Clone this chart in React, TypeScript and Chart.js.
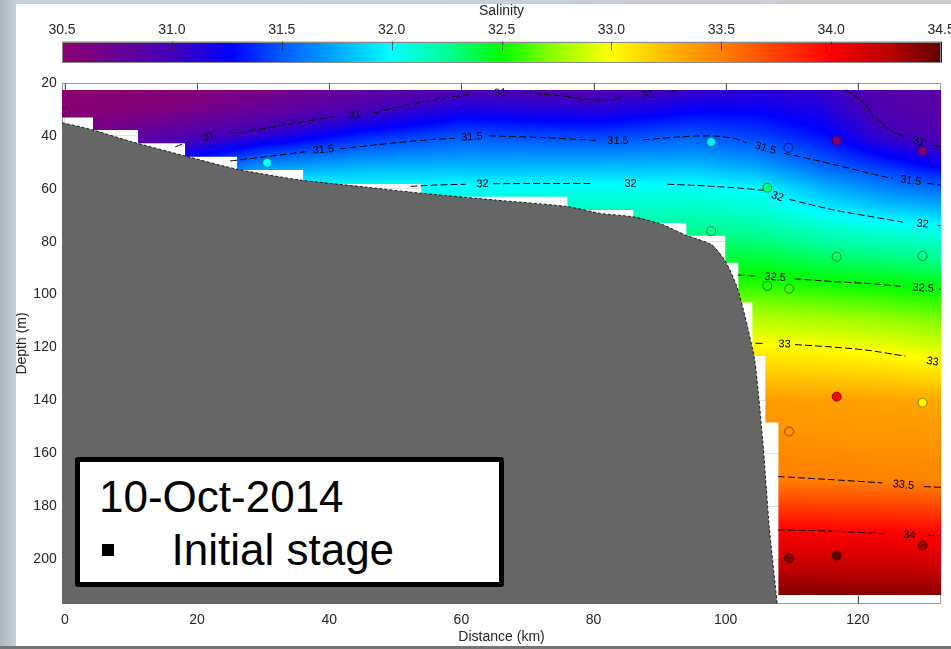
import React, { useEffect, useRef } from 'react';
import { Chart, registerables } from 'chart.js';

Chart.register(...registerables);

const FONT = "'Liberation Sans', Arial, Helvetica, sans-serif";
const TEXT_COLOR = '#262626';

// ---- axes ----
const X_MIN = -0.45;
const X_MAX = 132.6;
const Y_MIN = 20;
const Y_MAX = 217;
const SAL_MIN = 30.5;
const SAL_MAX = 34.5;

// ---- gridded salinity field (rows = depth levels, columns = distances) ----
const gridDistance = [0, 15, 30, 45, 60, 80, 95, 105, 115, 124, 132.6];
const gridDepth = [22, 30, 40, 50, 60, 75, 95, 120, 140, 155, 170, 190, 215];
const sal22 = [30.5, 30.52, 30.62, 30.8, 30.94, 30.92, 31.03, 31.1, 31.05, 30.9, 30.85];
const sal30 = [30.52, 30.6, 30.78, 30.97, 31.17, 31.12, 31.25, 31.25, 31.15, 30.93, 30.88];
const sal40 = [30.62, 30.88, 31.1, 31.35, 31.48, 31.44, 31.5, 31.43, 31.3, 31.05, 30.93];
const sal50 = [30.8, 31.25, 31.62, 31.72, 31.75, 31.75, 31.77, 31.68, 31.49, 31.35, 31.2];
const sal60 = [31.0, 31.6, 32.05, 32.03, 32.02, 32.04, 32.03, 31.99, 31.78, 31.64, 31.55];
const sal75 = [31.3, 31.9, 32.15, 32.15, 32.2, 32.22, 32.25, 32.22, 32.13, 32.07, 32.03];
const sal95 = [31.7, 32.1, 32.3, 32.35, 32.45, 32.6, 32.55, 32.54, 32.5, 32.47, 32.44];
const sal120 = [32.2, 32.5, 32.7, 32.8, 32.9, 33.0, 33.02, 33.03, 33.0, 32.96, 32.9];
const sal140 = [32.6, 32.9, 33.1, 33.2, 33.3, 33.35, 33.35, 33.36, 33.35, 33.34, 33.32];
const sal155 = [32.8, 33.05, 33.25, 33.32, 33.38, 33.42, 33.42, 33.43, 33.42, 33.41, 33.4];
const sal170 = [33.0, 33.2, 33.4, 33.45, 33.5, 33.5, 33.5, 33.52, 33.5, 33.49, 33.47];
const sal190 = [33.5, 33.7, 33.9, 33.95, 34.0, 34.0, 34.0, 34.02, 34.01, 34.0, 33.98];
const sal215 = [34.0, 34.1, 34.2, 34.3, 34.4, 34.42, 34.42, 34.43, 34.43, 34.42, 34.41];
const salinityGrid = [sal22, sal30, sal40, sal50, sal60, sal75, sal95, sal120, sal140, sal155, sal170, sal190, sal215];

// ---- extent of the gridded field (blanked steps) ----
const fieldTop = 22.6;
const fieldStepEdges = [-0.45, 4.24, 11.06, 18.17, 26.05, 36.04, 53.92, 76.03, 86.02, 94.05, 99.95, 101.92, 104.04, 106.0, 107.98, 132.6];
const fieldStepBottoms = [33, 37.8, 42.8, 47.9, 52.9, 58.2, 63, 68, 72.9, 77.8, 88, 103, 123.2, 148.4, 213.6];

// ---- bathymetry ----
const bathyDistance = [-0.45, 4.0, 10.1, 18.2, 26.0, 35.6, 45.3, 54.0, 65.3, 76.0, 81.0, 86.0, 90.4, 93.9, 97.9, 100.0, 101.7, 102.9, 104.4, 105.6, 106.6, 107.8];
const bathyDepth = [35, 37.6, 42.2, 47.6, 52.6, 56.7, 59.3, 61.7, 64.3, 66.7, 69.3, 70.6, 73.5, 77.5, 81.2, 87.6, 97, 108, 125, 155, 188, 217];

// ---- stations (CTD samples) ----
const stationDistance = [0.05, 30.6, 97.8, 109.5, 116.8, 129.8, 106.3, 97.8, 116.8, 129.8, 106.3, 109.6, 116.8, 129.8, 109.6, 109.6, 116.8, 129.8];
const stationDepth = [30.85, 50.2, 42.3, 44.5, 41.9, 45.8, 59.6, 76.0, 85.7, 85.4, 96.7, 97.8, 138.6, 140.9, 151.8, 199.7, 198.7, 194.9];
const stationSalinity = [30.55, 32.0, 31.95, 31.35, 30.55, 30.6, 32.3, 32.4, 32.45, 32.45, 32.5, 32.7, 34.0, 33.05, 33.4, 34.4, 34.5, 34.35];
const stationFilled = [0, 1, 1, 0, 1, 1, 1, 0, 0, 0, 0, 0, 1, 1, 0, 1, 1, 1];

// ---- contour lines: segments [distance, depth] and label positions ----
const c31aSegments = [
  [[16.7, 44.1], [18.6, 42.4]],
  [[24.8, 39.2], [30, 37.3], [35, 35.1], [38.6, 33.6], [41.0, 32.7]],
  [[46.8, 31.2], [53, 27.7], [58, 25.4], [61.2, 24.3]],
  [[69.5, 23.8], [75, 24.8], [79.8, 26.4], [84.5, 25.9]],
  [[91.2, 23.4], [92.6, 22.6]],
];
const c31aLabels = [[21.7, 40.4], [43.9, 32.1], [65.9, 23.8], [88.3, 24.5]];

const c31bSegments = [
  [[118.1, 22.6], [120.4, 26.4], [123.1, 34.0], [124.9, 37.8], [127.0, 40.2]],
  [[131.3, 43.6], [132.6, 44.1]],
];
const c31bLabels = [[129.2, 42.2]];

const c315Segments = [
  [[25.0, 49.5], [30, 48.0], [36.4, 46.0]],
  [[41.6, 44.9], [50, 42.6], [56, 41.3], [59.0, 40.9]],
  [[64.2, 40.0], [72, 40.6], [80.5, 41.7]],
  [[87.5, 41.5], [93, 40.4], [97.7, 40.0], [101.2, 40.9], [103.2, 42.6]],
  [[108.8, 46.6], [111.3, 47.9], [117.5, 51.5], [123.9, 55.4], [125.3, 56.0]],
  [[130.5, 57.9], [132.6, 58.6]],
];
const c315Labels = [[39.1, 45.3], [61.6, 40.4], [83.7, 41.9], [106.0, 44.7], [128.0, 57.0]];

const c32Segments = [
  [[52.3, 59.1], [56, 58.6], [60.6, 58.3]],
  [[64.8, 58.1], [70, 58.0], [75, 58.0], [79.5, 58.0]],
  [[91.2, 58.3], [95.3, 58.7], [101.3, 59.6], [105.8, 60.6]],
  [[109.6, 64.0], [116.3, 68], [121.5, 70.3], [126.8, 72.6]],
  [[132.0, 73.8], [132.6, 74.0]],
];
const c32Labels = [[63.2, 58.2], [85.6, 58.1], [107.8, 63.0], [129.8, 73.3]];

const c325Segments = [
  [[101.8, 92.6], [104.7, 93.0]],
  [[110.4, 94.0], [116.3, 95.1], [121.5, 95.8], [126.5, 96.9]],
  [[132.3, 97.9], [132.6, 98.0]],
];
const c325Labels = [[107.5, 93.5], [129.9, 97.6]];

const c33Segments = [
  [[104.5, 118.4], [106.0, 118.5]],
  [[110.5, 118.9], [116, 119.8], [121.3, 121.0], [127.2, 123.3]],
];
const c33Labels = [[108.9, 118.8], [131.3, 125.4]];

const c335Segments = [
  [[107.9, 168.8], [115.5, 169.9], [123.7, 171.2]],
  [[130.0, 172.6], [132.6, 172.9]],
];
const c335Labels = [[126.9, 172.0]];

const c34Segments = [
  [[107.9, 189.0], [115.5, 189.4], [124.5, 190.5]],
  [[130.6, 191.1], [132.6, 191.2]],
];
const c34Labels = [[127.8, 190.9]];

const contourLevels = ['31', '31', '31.5', '32', '32.5', '33', '33.5', '34'];
const contourSegments = [c31aSegments, c31bSegments, c315Segments, c32Segments, c325Segments, c33Segments, c335Segments, c34Segments];
const contourLabels = [c31aLabels, c31bLabels, c315Labels, c32Labels, c325Labels, c33Labels, c335Labels, c34Labels];
const contourDashed = [true, false, true, true, true, true, true, true];

// ---- colour map ----
const cmapValues = [30.5, 30.75, 31.0, 31.27, 31.5, 31.75, 32.0, 32.25, 32.5, 32.75, 33.0, 33.2, 33.35, 33.5, 33.75, 34.0, 34.25, 34.5];
const cmapColors = [
  [140, 0, 110], [105, 0, 150], [70, 0, 185], [0, 0, 255], [0, 90, 255], [0, 170, 255],
  [0, 255, 255], [0, 255, 150], [0, 255, 0], [150, 255, 0], [255, 255, 0], [255, 200, 0],
  [255, 160, 0], [255, 128, 0], [255, 64, 0], [255, 0, 0], [190, 0, 0], [96, 0, 0],
];

function cmap(v: number): number[] {
  const n = cmapValues.length;
  if (v <= cmapValues[0]) return cmapColors[0];
  if (v >= cmapValues[n - 1]) return cmapColors[n - 1];
  let i = 0;
  while (i < n - 2 && v > cmapValues[i + 1]) i++;
  const t = (v - cmapValues[i]) / (cmapValues[i + 1] - cmapValues[i]);
  const a = cmapColors[i];
  const b = cmapColors[i + 1];
  return [a[0] + (b[0] - a[0]) * t, a[1] + (b[1] - a[1]) * t, a[2] + (b[2] - a[2]) * t];
}
const rgb = (c: number[]) => `rgb(${Math.round(c[0])},${Math.round(c[1])},${Math.round(c[2])})`;
const darken = (c: number[], f: number) => [c[0] * f, c[1] * f, c[2] * f];

function findIdx(arr: number[], v: number): [number, number] {
  const n = arr.length;
  if (v <= arr[0]) return [0, 0];
  if (v >= arr[n - 1]) return [n - 2, 1];
  let i = 0;
  while (i < n - 2 && v > arr[i + 1]) i++;
  return [i, (v - arr[i]) / (arr[i + 1] - arr[i])];
}

function salinityAt(d: number, z: number): number {
  const [i, t] = findIdx(gridDistance, d);
  const [j, u] = findIdx(gridDepth, z);
  const r0 = salinityGrid[j];
  const r1 = salinityGrid[j + 1];
  const a = r0[i] * (1 - t) + r0[i + 1] * t;
  const b = r1[i] * (1 - t) + r1[i + 1] * t;
  return a * (1 - u) + b * u;
}

// ---- plugins ----
const fieldPlugin = {
  id: 'salinityField',
  beforeDatasetsDraw(chart: any) {
    const { ctx, chartArea: ca } = chart;
    const xs = chart.scales.x;
    const ys = chart.scales.y;

    // frame and inward ticks
    ctx.save();
    ctx.strokeStyle = '#9a9a9a';
    ctx.lineWidth = 1;
    ctx.strokeRect(ca.left + 0.5, ca.top + 0.5, ca.right - ca.left - 1, ca.bottom - ca.top - 1);
    ctx.strokeStyle = '#555';
    xs.ticks.forEach((t: any) => {
      const p = Math.round(xs.getPixelForValue(t.value)) + 0.5;
      ctx.beginPath();
      ctx.moveTo(p, ca.top);
      ctx.lineTo(p, ca.top + 7);
      ctx.moveTo(p, ca.bottom);
      ctx.lineTo(p, ca.bottom - 8);
      ctx.stroke();
    });
    ctx.restore();

    // colour field
    const x0 = Math.floor(xs.getPixelForValue(fieldStepEdges[0]));
    const x1 = Math.ceil(xs.getPixelForValue(fieldStepEdges[fieldStepEdges.length - 1]));
    const y0 = Math.floor(ys.getPixelForValue(fieldTop));
    const y1 = Math.ceil(ys.getPixelForValue(Math.max(...fieldStepBottoms)));
    const w = x1 - x0;
    const h = y1 - y0;
    const off = document.createElement('canvas');
    off.width = w;
    off.height = h;
    const octx = off.getContext('2d')!;
    const img = octx.createImageData(w, h);
    const colD: number[] = [];
    for (let i = 0; i < w; i++) colD.push(xs.getValueForPixel(x0 + i + 0.5));
    for (let j = 0; j < h; j++) {
      const z = ys.getValueForPixel(y0 + j + 0.5);
      for (let i = 0; i < w; i++) {
        const c = cmap(salinityAt(colD[i], z));
        const k = (j * w + i) * 4;
        img.data[k] = c[0];
        img.data[k + 1] = c[1];
        img.data[k + 2] = c[2];
        img.data[k + 3] = 255;
      }
    }
    octx.putImageData(img, 0, 0);

    const px = (d: number) => xs.getPixelForValue(d);
    const py = (z: number) => ys.getPixelForValue(z);
    ctx.save();
    ctx.beginPath();
    const last = fieldStepEdges.length - 1;
    ctx.moveTo(px(fieldStepEdges[0]), py(fieldTop));
    ctx.lineTo(px(fieldStepEdges[last]), py(fieldTop));
    for (let k = fieldStepBottoms.length - 1; k >= 0; k--) {
      ctx.lineTo(px(fieldStepEdges[k + 1]), py(fieldStepBottoms[k]));
      ctx.lineTo(px(fieldStepEdges[k]), py(fieldStepBottoms[k]));
    }
    ctx.closePath();
    ctx.clip();
    ctx.drawImage(off, x0, y0);
    ctx.restore();
  },
};

const labelPlugin = {
  id: 'contourLabels',
  afterDatasetsDraw(chart: any) {
    const { ctx } = chart;
    const xs = chart.scales.x;
    const ys = chart.scales.y;
    const P = (p: number[]) => [xs.getPixelForValue(p[0]), ys.getPixelForValue(p[1])];
    ctx.save();
    ctx.font = `11px ${FONT}`;
    ctx.fillStyle = '#000';
    ctx.textAlign = 'center';
    ctx.textBaseline = 'middle';
    contourLabels.forEach((labels, ci) => {
      const segs = contourSegments[ci];
      labels.forEach((lab, li) => {
        const prev = segs[li];
        const next = segs[li + 1];
        let a: number[];
        let b: number[];
        if (next) {
          a = P(prev[prev.length - 1]);
          b = P(next[0]);
        } else {
          a = P(prev[prev.length - 2]);
          b = P(prev[prev.length - 1]);
        }
        const ang = Math.atan2(b[1] - a[1], b[0] - a[0]);
        const c = P(lab);
        ctx.save();
        ctx.translate(c[0], c[1]);
        ctx.rotate(ang);
        ctx.fillText(contourLevels[ci], 0, 0);
        ctx.restore();
      });
    });
    ctx.restore();
  },
};

const colorbarPlugin = {
  id: 'colorbar',
  afterDraw(chart: any) {
    const { ctx } = chart;
    const cb = chart.scales.cb;
    const top = cb.bottom;
    const height = 21;
    ctx.save();
    for (let p = Math.floor(cb.left); p < Math.ceil(cb.right); p++) {
      const v = cb.getValueForPixel(p + 0.5);
      ctx.fillStyle = rgb(cmap(v));
      ctx.fillRect(p, top, 1, height);
    }
    ctx.strokeStyle = '#8a8a8a';
    ctx.lineWidth = 1;
    ctx.strokeRect(Math.round(cb.left) + 0.5, Math.round(top) + 0.5, Math.round(cb.right - cb.left) - 1, height - 1);
    ctx.strokeStyle = 'rgba(40,40,40,0.75)';
    cb.ticks.forEach((t: any) => {
      if (t.value <= SAL_MIN || t.value >= SAL_MAX) return;
      const p = Math.round(cb.getPixelForValue(t.value)) + 0.5;
      ctx.beginPath();
      ctx.moveTo(p, top);
      ctx.lineTo(p, top + 9);
      ctx.stroke();
    });
    ctx.restore();
  },
};

function buildContourData(segs: number[][][], labels: number[][]) {
  const out: any[] = [];
  segs.forEach((seg, i) => {
    seg.forEach((p) => out.push({ x: p[0], y: p[1] }));
    if (i < segs.length - 1) {
      const lab = labels[i] || seg[seg.length - 1];
      out.push({ x: lab[0], y: null });
    }
  });
  return out;
}

export default function App() {
  const ref = useRef<HTMLCanvasElement>(null);

  useEffect(() => {
    const canvas = ref.current;
    if (!canvas) return;
    Chart.defaults.font.family = FONT;

    const tickFont = { size: 14, family: FONT };

    const bathyDataset: any = {
      type: 'line',
      label: 'Bathymetry',
      data: bathyDistance.map((d, i) => ({ x: d, y: bathyDepth[i] })),
      borderColor: 'rgba(0,0,0,0.85)',
      borderWidth: 1,
      borderDash: [3, 2],
      backgroundColor: '#666666',
      fill: { value: Y_MAX },
      pointRadius: 0,
      tension: 0.2,
      order: 3,
      xAxisID: 'x',
      yAxisID: 'y',
    };

    const contourDatasets: any[] = contourSegments.map((segs, ci) => ({
      type: 'line',
      label: 'Contour ' + contourLevels[ci],
      data: buildContourData(segs, contourLabels[ci]),
      borderColor: '#000',
      borderWidth: 1,
      borderDash: contourDashed[ci] ? [7, 3] : [],
      pointRadius: 0,
      fill: false,
      tension: 0.3,
      spanGaps: false,
      order: 2,
      xAxisID: 'x',
      yAxisID: 'y',
    }));

    const stationColors = stationSalinity.map((s) => cmap(s));
    const stationDataset: any = {
      type: 'scatter',
      label: 'Stations',
      data: stationDistance.map((d, i) => ({ x: d, y: stationDepth[i] })),
      pointRadius: 4.5,
      pointBackgroundColor: stationColors.map((c, i) => (stationFilled[i] ? rgb(c) : 'rgba(0,0,0,0)')),
      pointBorderColor: stationColors.map((c) => rgb(darken(c, 0.55))),
      pointBorderWidth: 1,
      showLine: false,
      order: 1,
      xAxisID: 'x',
      yAxisID: 'y',
    };

    const chart = new Chart(canvas, {
      type: 'scatter',
      data: { datasets: [bathyDataset, ...contourDatasets, stationDataset] },
      options: {
        animation: false,
        responsive: false,
        events: [],
        layout: { padding: 0 },
        plugins: { legend: { display: false }, tooltip: { enabled: false } },
        scales: {
          x: {
            type: 'linear',
            position: 'bottom',
            min: X_MIN,
            max: X_MAX,
            ticks: { stepSize: 20, includeBounds: false, padding: 7.6, font: tickFont, color: TEXT_COLOR },
            grid: { color: '#e2e2e2', drawTicks: false },
            border: { display: false },
            title: { display: true, text: 'Distance (km)', font: { size: 14, family: FONT }, color: TEXT_COLOR, padding: { top: 0, bottom: 0 } },
            afterFit: (s: any) => { s.height = 42; },
          },
          y: {
            type: 'linear',
            position: 'left',
            reverse: true,
            min: Y_MIN,
            max: Y_MAX,
            ticks: { stepSize: 20, includeBounds: false, padding: 5.3, font: tickFont, color: TEXT_COLOR },
            grid: { color: '#e2e2e2', drawTicks: false },
            border: { display: false },
            title: { display: true, text: 'Depth (m)', font: { size: 14, family: FONT }, color: TEXT_COLOR, padding: { top: -2, bottom: 0 } },
            afterFit: (s: any) => { s.width = 46; },
          },
          x2: {
            type: 'linear',
            position: 'top',
            weight: 1,
            min: X_MIN,
            max: X_MAX,
            ticks: { display: false },
            grid: { display: false, drawTicks: false },
            border: { display: false },
            afterFit: (s: any) => { s.height = 41.3; },
          },
          cb: {
            type: 'linear',
            position: 'top',
            weight: 2,
            min: SAL_MIN,
            max: SAL_MAX,
            ticks: {
              stepSize: 0.5,
              padding: 3.3,
              font: tickFont,
              color: TEXT_COLOR,
              maxRotation: 0,
              autoSkip: false,
              callback: (v: any) => Number(v).toFixed(1),
            },
            grid: { display: false, drawTicks: false },
            border: { display: false },
            title: { display: true, text: 'Salinity', font: { size: 14, family: FONT }, color: TEXT_COLOR, padding: { top: -1, bottom: 0 } },
            afterFit: (s: any) => { s.height = 37.7; },
          },
        },
      } as any,
      plugins: [fieldPlugin, labelPlugin, colorbarPlugin],
    } as any);

    return () => chart.destroy();
  }, []);

  const bigText: React.CSSProperties = {
    position: 'absolute',
    fontFamily: FONT,
    fontSize: 44,
    lineHeight: '44px',
    color: '#000',
    whiteSpace: 'pre',
    margin: 0,
  };

  return (
    <div
      style={{
        position: 'fixed',
        left: 0,
        top: 0,
        width: 951,
        height: 649,
        overflow: 'hidden',
        background: 'linear-gradient(to right, #a9b8c3 0px, #c6d0d7 16px, #c9ced2 100%)',
      }}
    >
      <div style={{ position: 'absolute', left: 16, top: 4, width: 935, height: 642, background: '#ffffff' }} />
      <div style={{ position: 'absolute', left: 0, top: 646, width: 951, height: 3, background: '#747474' }} />
      <canvas
        ref={ref}
        width={942}
        height={642}
        style={{ position: 'absolute', left: 16, top: 4, width: 942, height: 642 }}
      />
      <div
        style={{
          position: 'absolute',
          left: 75,
          top: 457,
          width: 429,
          height: 130,
          border: '5px solid #000',
          borderRadius: 3,
          background: '#fff',
          boxSizing: 'border-box',
        }}
      />
      <div style={{ ...bigText, left: 99, top: 474.5 }}>10-Oct-2014</div>
      <div style={{ position: 'absolute', left: 102, top: 544, width: 12, height: 12, background: '#000' }} />
      <div style={{ ...bigText, left: 171.5, top: 528 }}>Initial stage</div>
    </div>
  );
}
